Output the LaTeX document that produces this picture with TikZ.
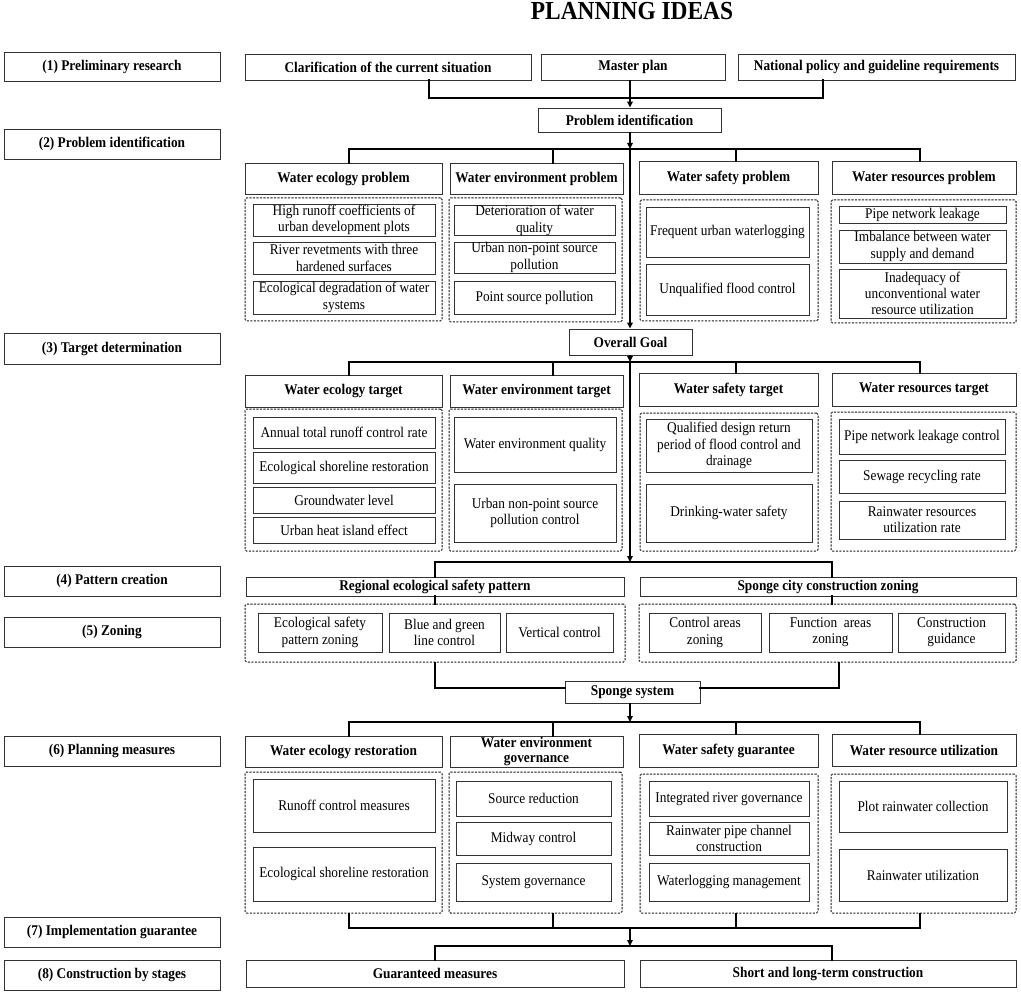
\documentclass[tikz,border=0pt]{standalone}
\usepackage{fontspec}
\setmainfont{Liberation Serif}[FakeStretch=0.9]
\usetikzlibrary{arrows.meta}
\tikzset{
 base/.style={inner sep=0pt, align=center, font=\fontsize{14.8}{16.3}\selectfont},
 box/.style={base, draw=black!80, line width=0.9pt},
 hbox/.style={box, font=\fontsize{14.8}{16.3}\selectfont\bfseries},
 dbox/.style={draw=black!90, line width=1pt, dash pattern=on 2.2pt off 1.3pt, rounded corners=1.5pt, inner sep=0pt},
 conn/.style={line width=2pt, line cap=rect, line join=miter},
 arr/.style={line width=2pt, -{Triangle[length=6pt,width=5.5pt]}}
}
\newcommand\B[7]{\node[#6, minimum width={(#4-#2)*1pt}, minimum height={(#5-#3)*1pt}] (#1) at ({(#2+#4)/2},{(#3+#5)/2}) {#7};}
\begin{document}
\begin{tikzpicture}[x=1pt,y=-1pt]
\fill[white] (0,0) rectangle (1021,995);
\useasboundingbox (0,0) rectangle (1021,995);
% title
\node[font=\fontsize{26}{28}\selectfont\bfseries] (title) at (632,11.5) {PLANNING IDEAS};
% left labels
\B{l1}{4}{52}{220}{81}{hbox}{(1) Preliminary research}
\B{l2}{4}{129}{220}{159}{hbox}{(2) Problem identification}
\B{l3}{4}{333}{220}{364}{hbox}{(3) Target determination}
\B{l4}{4}{566}{220}{596}{hbox}{(4) Pattern creation}
\B{l5}{4}{617}{220}{647}{hbox}{(5) Zoning}
\B{l6}{4}{736}{220}{766}{hbox}{(6) Planning measures}
\B{l7}{4}{917}{220}{947}{hbox}{(7) Implementation guarantee}
\B{l8}{4}{960}{220}{990}{hbox}{(8) Construction by stages}
% helper x positions
\coordinate (xA) at (349,0);
\coordinate (xB) at (553,0);
\coordinate (xC) at (736,0);
\coordinate (xD) at (920,0);
\coordinate (xL) at (435,0);
\coordinate (xR) at (832,0);
\coordinate (xR2) at (839,0);
% row 1
\B{clar}{245}{54}{531}{80}{hbox}{Clarification of the current situation}
\B{mp}{541}{54}{725}{80}{hbox}{Master plan}
\B{nat}{738}{54}{1015}{80}{hbox}{National policy and guideline requirements}
\B{pi}{538}{108}{721}{132}{hbox}{Problem identification}
\coordinate (cx) at (429,98);
\coordinate (nx) at (823,98);
\coordinate (j1) at (630,98);
\draw[conn] (clar.south -| cx) -- (cx) -- (nx) -- (nat.south -| nx);
\draw[arr] (mp.south -| j1) -- (pi.north -| j1);
% problems
\B{pe}{245}{163}{442}{194}{hbox}{Water ecology problem}
\B{pv}{450}{163}{623}{194}{hbox}{Water environment problem}
\B{ps}{639}{161}{818}{194}{hbox}{Water safety problem}
\B{pr}{832}{161}{1016}{194}{hbox}{Water resources problem}
\B{dpe}{245}{198}{442}{321}{dbox}{}
\B{dpv}{449}{198}{622}{322}{dbox}{}
\B{dps}{640}{200}{818}{321}{dbox}{}
\B{dpr}{831}{200}{1016}{323}{dbox}{}
\B{pe1}{253}{204}{435}{236}{box}{High runoff coefficients of\\urban development plots}
\B{pe2}{253}{242}{435}{274}{box}{River revetments with three\\hardened surfaces}
\B{pe3}{253}{281}{435}{314}{box}{Ecological degradation of water\\systems}
\B{pv1}{454}{206}{615}{235}{box}{Deterioration of water\\quality}
\B{pv2}{454}{242}{615}{273}{box}{Urban non-point source\\pollution}
\B{pv3}{454}{281}{615}{314}{box}{Point source pollution}
\B{ps1}{646}{207}{809}{257}{box}{Frequent urban waterlogging}
\B{ps2}{646}{264}{809}{315}{box}{Unqualified flood control}
\B{pr1}{839}{206}{1006}{223}{box}{Pipe network leakage}
\B{pr2}{839}{230}{1006}{263}{box}{Imbalance between water\\supply and demand}
\B{pr3}{839}{269}{1006}{318}{box}{Inadequacy of\\unconventional water\\resource utilization}
\coordinate (b2) at (630,149);
\draw[arr] (pi.south -| b2) -- (b2);
\draw[conn] (pe.north -| xA) -- (xA |- b2) -- (xD |- b2) -- (pr.north -| xD);
\draw[conn] (pv.north -| xB) -- (xB |- b2);
\draw[conn] (ps.north -| xC) -- (xC |- b2);
% overall goal
\B{og}{569}{329}{692}{355}{hbox}{Overall Goal}
\draw[arr] (b2) -- (og.north -| b2);
% targets
\B{te}{245}{375}{442}{407}{hbox}{Water ecology target}
\B{tv}{450}{375}{623}{407}{hbox}{Water environment target}
\B{ts}{639}{373}{818}{406}{hbox}{Water safety target}
\B{tr}{832}{373}{1016}{406}{hbox}{Water resources target}
\B{dte}{245}{409}{442}{551}{dbox}{}
\B{dtv}{449}{409}{622}{551}{dbox}{}
\B{dts}{640}{413}{818}{551}{dbox}{}
\B{dtr}{831}{412}{1016}{551}{dbox}{}
\B{te1}{253}{417}{435}{448}{box}{Annual total runoff control rate}
\B{te2}{253}{452}{435}{483}{box}{Ecological shoreline restoration}
\B{te3}{253}{487}{435}{513}{box}{Groundwater level}
\B{te4}{253}{517}{435}{543}{box}{Urban heat island effect}
\B{tv1}{454}{417}{616}{472}{box}{Water environment quality}
\B{tv2}{454}{484}{616}{542}{box}{Urban non-point source\\pollution control}
\B{ts1}{646}{419}{812}{472}{box}{Qualified design return\\period of flood control and\\drainage}
\B{ts2}{646}{484}{812}{542}{box}{Drinking-water safety}
\B{tr1}{839}{419}{1005}{454}{box}{Pipe network leakage control}
\B{tr2}{839}{460}{1005}{493}{box}{Sewage recycling rate}
\B{tr3}{839}{501}{1005}{539}{box}{Rainwater resources\\utilization rate}
\coordinate (b3) at (630,362);
\draw[arr] (og.south -| b3) -- (b3);
\draw[conn] (te.north -| xA) -- (xA |- b3) -- (xD |- b3) -- (tr.north -| xD);
\draw[conn] (tv.north -| xB) -- (xB |- b3);
\draw[conn] (ts.north -| xC) -- (xC |- b3);
% pattern
\coordinate (b4) at (630,562);
\draw[arr] (b3) -- (b4);
\B{reg}{246}{577}{624}{596}{hbox}{Regional ecological safety pattern}
\B{spc}{640}{577}{1016}{596}{hbox}{Sponge city construction zoning}
\B{zl}{245}{604}{625}{662}{dbox}{}
\B{zr}{639}{604}{1016}{662}{dbox}{}
\B{z1}{258}{613}{382}{652}{box}{Ecological safety\\pattern zoning}
\B{z2}{389}{613}{500}{652}{box}{Blue and green\\line control}
\B{z3}{506}{613}{613}{652}{box}{Vertical control}
\B{z4}{649}{613}{761}{652}{box}{Control areas\\zoning}
\B{z5}{769}{613}{892}{652}{box}{Function\ \ areas\\zoning}
\B{z6}{898}{613}{1005}{652}{box}{Construction\\guidance}
\draw[conn] (reg.north -| xL) -- (xL |- b4) -- (xR |- b4) -- (spc.north -| xR);
\draw[conn] (reg.south -| xL) -- (zl.north -| xL);
\draw[conn] (spc.south -| xR) -- (zr.north -| xR);
% sponge system
\B{sp}{565}{681}{700}{703}{hbox}{Sponge system}
\draw[conn] (zl.south -| xL) |- ([yshift=4pt]sp.west);
\draw[conn] (zr.south -| xR2) |- ([yshift=4pt]sp.east);
% measures
\B{me}{245}{736}{442}{767}{hbox}{Water ecology restoration}
\B{mv}{450}{736}{623}{767}{hbox, font=\fontsize{14.8}{15.5}\selectfont\bfseries}{Water environment\\governance}
\B{ms}{639}{734}{818}{767}{hbox}{Water safety guarantee}
\B{mr}{832}{734}{1016}{766}{hbox}{Water resource utilization}
\B{dme}{245}{772}{442}{913}{dbox}{}
\B{dmv}{449}{772}{622}{913}{dbox}{}
\B{dms}{640}{774}{818}{913}{dbox}{}
\B{dmr}{831}{774}{1016}{913}{dbox}{}
\B{me1}{253}{779}{435}{832}{box}{Runoff control measures}
\B{me2}{253}{847}{435}{901}{box}{Ecological shoreline restoration}
\B{mv1}{456}{781}{611}{816}{box}{Source reduction}
\B{mv2}{456}{822}{611}{855}{box}{Midway control}
\B{mv3}{456}{863}{611}{901}{box}{System governance}
\B{ms1}{649}{781}{809}{816}{box}{Integrated river governance}
\B{ms2}{649}{822}{809}{855}{box}{Rainwater pipe channel\\construction}
\B{ms3}{649}{863}{809}{901}{box}{Waterlogging management}
\B{mr1}{839}{781}{1007}{832}{box}{Plot rainwater collection}
\B{mr2}{839}{849}{1007}{901}{box}{Rainwater utilization}
\coordinate (b5) at (630,722);
\draw[arr] (sp.south -| b5) -- (b5);
\draw[conn] (me.north -| xA) -- (xA |- b5) -- (xD |- b5) -- (mr.north -| xD);
\draw[conn] (mv.north -| xB) -- (xB |- b5);
\draw[conn] (ms.north -| xC) -- (xC |- b5);
% bottom
\coordinate (b6) at (630,928);
\coordinate (b7) at (630,946);
\draw[conn] (dme.south -| xA) -- (xA |- b6) -- (xD |- b6) -- (dmr.south -| xD);
\draw[conn] (dmv.south -| xB) -- (xB |- b6);
\draw[conn] (dms.south -| xC) -- (xC |- b6);
\draw[arr] (b6) -- (b7);
\B{gm}{246}{960}{624}{987}{hbox}{Guaranteed measures}
\B{sl}{640}{960}{1016}{987}{hbox}{Short and long-term construction}
\draw[conn] (gm.north -| xL) -- (xL |- b7) -- (xR |- b7) -- (sl.north -| xR);
\end{tikzpicture}
\end{document}
